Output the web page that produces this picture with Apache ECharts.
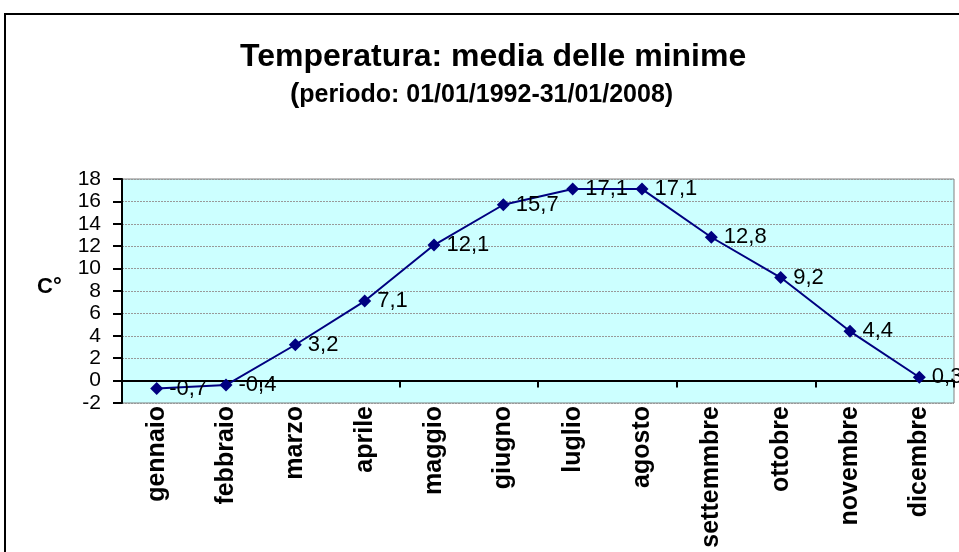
<!DOCTYPE html>
<html>
<head>
<meta charset="utf-8">
<script src="https://cdn.jsdelivr.net/npm/echarts@6/dist/echarts.min.js"></script>
<style>
html, body { margin: 0; padding: 0; background: #fff; }
#chart { width: 959px; height: 552px; }
</style>
</head>
<body>
<div id="chart"></div>
<script>
var mesi = ['gennaio', 'febbraio', 'marzo', 'aprile', 'maggio', 'giugno', 'luglio', 'agosto', 'settemmbre', 'ottobre', 'novembre', 'dicembre'];
var minime = [-0.7, -0.4, 3.2, 7.1, 12.1, 15.7, 17.1, 17.1, 12.8, 9.2, 4.4, 0.3];

var chart = echarts.init(document.getElementById('chart'));
var font = 'Liberation Sans, Arial, sans-serif';

option = {
    animation: false,
    backgroundColor: '#fff',
    graphic: [
        {
            type: 'rect',
            shape: { x: 5, y: 14, width: 980, height: 600 },
            style: { fill: 'none', stroke: '#000', lineWidth: 2 },
            z: 0
        },
        {
            type: 'text',
            left: 240, top: 41,
            style: { text: 'Temperatura: media delle minime', font: 'bold 32px ' + font, fill: '#000' }
        },
        {
            type: 'text',
            left: 290, top: 80,
            style: {
                text: '{a|(}{b|periodo: 01/01/1992-31/01/2008)}',
                rich: {
                    a: { font: 'bold 28px ' + font, fill: '#000' },
                    b: { font: 'bold 25px ' + font, fill: '#000', padding: [2, 0, 0, 0] }
                }
            }
        },
        {
            type: 'text',
            left: 37, top: 276,
            style: { text: 'C°', font: 'bold 22px ' + font, fill: '#000' }
        }
    ],
    grid: {
        left: 122, top: 179, right: 5, bottom: 149,
        show: true,
        backgroundColor: '#CCFFFF',
        borderColor: '#808080',
        borderWidth: 1
    },
    xAxis: [
        {
            type: 'category',
            data: mesi,
            boundaryGap: true,
            axisLine: { onZero: true, lineStyle: { color: '#000', width: 2 } },
            axisTick: { show: true, length: 7, lineStyle: { color: '#000', width: 2 } },
            axisLabel: { show: false },
            splitLine: { show: false }
        },
        {
            type: 'category',
            data: mesi,
            position: 'bottom',
            boundaryGap: true,
            axisLine: { show: false, onZero: false },
            axisTick: { show: false },
            axisLabel: {
                rotate: 90,
                interval: 0,
                margin: 3,
                color: '#000',
                fontFamily: font,
                fontWeight: 'bold',
                fontSize: 25
            }
        }
    ],
    yAxis: {
        type: 'value',
        min: -2, max: 18, interval: 2,
        axisLine: { show: true, lineStyle: { color: '#000', width: 2 } },
        axisTick: { show: true, length: 9, lineStyle: { color: '#000', width: 2 } },
        axisLabel: { color: '#000', fontFamily: font, fontSize: 21, margin: 21 },
        splitLine: { show: true, lineStyle: { color: '#999', type: [2, 1], width: 1 } }
    },
    series: [{
        type: 'line',
        xAxisIndex: 0,
        data: minime,
        symbol: 'diamond',
        symbolSize: 13,
        color: '#000080',
        lineStyle: { color: '#000080', width: 2 },
        itemStyle: { color: '#000080' },
        label: {
            show: true,
            position: 'right',
            distance: 6,
            color: '#000',
            fontFamily: font,
            fontSize: 22,
            formatter: function (p) { return String(p.value).replace('.', ','); }
        }
    }]
};
chart.setOption(option);
</script>
</body>
</html>
